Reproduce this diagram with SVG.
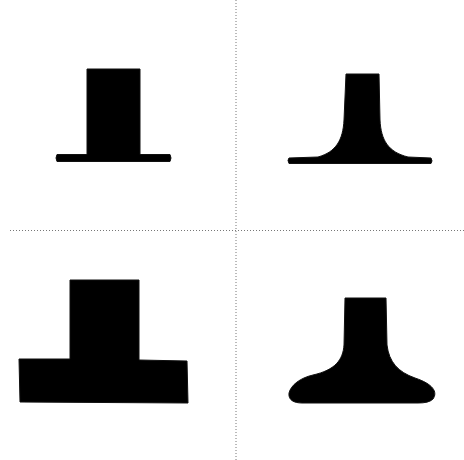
<svg xmlns="http://www.w3.org/2000/svg" width="464" height="460" viewBox="0 0 464 460">
<style>
.div{stroke:#777;stroke-width:1;stroke-dasharray:1 2;fill:none}
.sh{fill:#000;stroke:#111;stroke-width:1;stroke-linejoin:round}
</style>
<rect width="464" height="460" fill="#fff"/>
<g id="dividers">
<line class="div" x1="236" y1="0" x2="236" y2="460"/>
<line class="div" x1="10" y1="230.5" x2="464" y2="230.5"/>
</g>
<g id="shape1">
<path class="sh" d="M87,69 L140,69 L140,154.5 L170,154.5 Q172,158 170,161.5 L57,161.5 Q55,158 57,154.5 L87,154.5 Z"/>
</g>
<g id="shape2">
<path class="sh" d="M346,74 L379,74 L380,120 C381,140 388,152 408,157 L431,158 Q433,161 431,163.5 L289,163.5 Q287,160 289,158 L318,157 C336,152 343,140 344,120 Z"/>
</g>
<g id="shape3">
<path class="sh" d="M70,280 L139,280 L139,360 L187,361 L188,403 L20,402 L19,359 L70,359 Z"/>
</g>
<g id="shape4">
<path class="sh" d="M345,298 L386,298 L387,345 C389,362 398,372 415,378 C433,384 438,392 433,399 C430,402 425,403 418,403 L302,403 C294,403 288,400 289,393 C291,385 300,378 313,375 C335,370 343,360 344,345 Z"/>
</g>
</svg>
